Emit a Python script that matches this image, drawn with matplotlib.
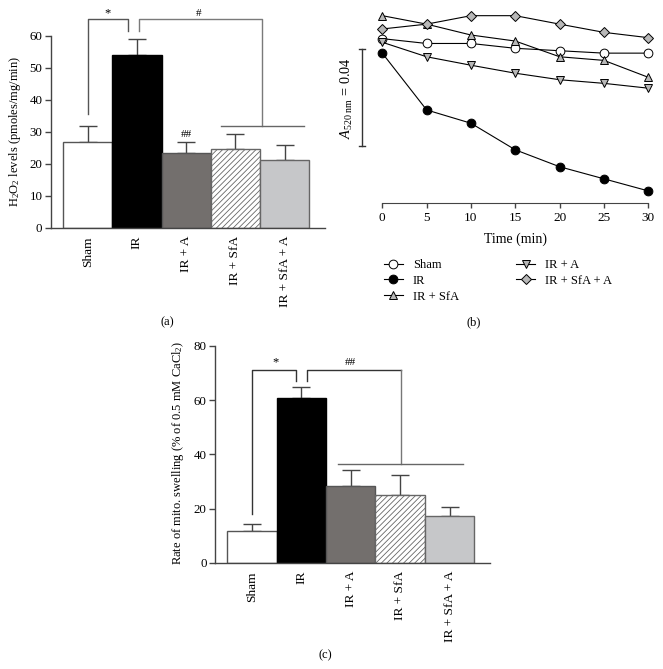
import matplotlib
matplotlib.use("Agg")
import matplotlib.pyplot as plt

plt.rcParams['font.family'] = ['Liberation Serif', 'DejaVu Serif']
plt.rcParams['mathtext.fontset'] = 'custom'
plt.rcParams['mathtext.rm'] = 'Liberation Serif'
plt.rcParams['mathtext.it'] = 'Liberation Serif:italic'
plt.rcParams['hatch.linewidth'] = 0.6
FS = 9

# ---------------- data ----------------
groups = ["Sham", "IR", "IR + A", "IR + SfA", "IR + SfA + A"]
h2o2_mean = [26.8, 54.2, 23.5, 24.7, 21.3]
h2o2_err = [4.9, 5.0, 3.4, 4.5, 4.6]
swell_mean = [11.7, 60.7, 28.4, 25.0, 17.2]
swell_err = [2.5, 4.1, 5.8, 7.2, 3.3]

time_min = [0, 5, 10, 15, 20, 25, 30]
abs_sham = [0.468, 0.466, 0.466, 0.464, 0.463, 0.462, 0.462]
abs_ir = [0.462, 0.4385, 0.433, 0.422, 0.415, 0.410, 0.405]
abs_ir_sfa = [0.4775, 0.474, 0.4695, 0.467, 0.4605, 0.459, 0.452]
abs_ir_a = [0.4665, 0.4605, 0.457, 0.4537, 0.451, 0.4495, 0.4475]
abs_ir_sfa_a = [0.472, 0.474, 0.4775, 0.4775, 0.474, 0.4706, 0.4684]
time_ticks = [0, 5, 10, 15, 20, 25, 30]
scale_bar_bottom = 0.4237
scale_bar_len = 0.04

bar_fc = ['white', 'black', '#736f6d', 'white', '#c6c7c9']
bar_ec = ['#555555', 'black', '#555555', '#666666', '#666666']
bar_hatch = [None, None, None, '//////', None]

W, H = 663, 669
fig = plt.figure(figsize=(W / 100, H / 100), dpi=100)


def fx(px):
    return px / W


def fy(py):
    return 1 - py / H


def bar_panel(ax, means, errs, ymax, ystep):
    x = list(range(len(groups)))
    for i in x:
        ax.bar(i, means[i], width=1.0, color=bar_fc[i], edgecolor=bar_ec[i],
               linewidth=1.0, hatch=bar_hatch[i], zorder=2)
        ax.errorbar(i, means[i], yerr=[[0], [errs[i]]], fmt='none',
                    ecolor='#444444', elinewidth=1.0, capsize=6.5,
                    capthick=1.0, zorder=1)
    ax.set_xlim(-0.75, 4.82)
    ax.set_ylim(0, ymax)
    ax.set_yticks(range(0, ymax + 1, ystep))
    ax.set_xticks(x)
    ax.set_xticklabels(groups, rotation=90, va='top', ha='center', fontsize=9.6)
    ax.tick_params(axis='x', length=0, pad=6)
    ax.tick_params(axis='y', length=4, width=1.0, color='#444444',
                   labelsize=9.3, pad=2)
    for s in ['top', 'right']:
        ax.spines[s].set_visible(False)
    for s in ['left', 'bottom']:
        ax.spines[s].set_color('#444444')
        ax.spines[s].set_linewidth(1.0)


def bracket(ax, xs, ys, color):
    ax.plot(xs, ys, color=color, lw=1.0, clip_on=False, zorder=3)


# ---------------- panel (a) ----------------
ax_a = fig.add_axes([fx(50.7), fy(227.7), (325 - 50.7) / W, (227.7 - 36) / H])
bar_panel(ax_a, h2o2_mean, h2o2_err, 60, 10)
bracket(ax_a, [0, 0, 0.816, 0.816], [35.6, 65.3, 65.3, 61.7], '#555555')
bracket(ax_a, [1.05, 1.05, 3.54, 3.54], [61.7, 65.2, 65.2, 31.9], '#7a7a7a')
bracket(ax_a, [2.70, 4.40], [31.9, 31.9], '#666666')
ax_a.text(0.40, 67.0, '*', ha='center', va='center', fontsize=FS)
ax_a.text(2.25, 67.0, '#', ha='center', va='center', fontsize=FS - 1)
ax_a.text(2.01, 29.2, '##', ha='center', va='center', fontsize=FS - 1)
fig.text(fx(15), fy(131.5), r'H$_2$O$_2$ levels (pmoles/mg/min)', rotation=90,
         ha='center', va='center', fontsize=FS)
fig.text(fx(167), fy(322), '(a)', ha='center', va='center', fontsize=FS)

# ---------------- panel (b) ----------------
ylo, yhi = 0.40, 0.482
ax_b = fig.add_axes([fx(382.3), fy(203), 266 / W, 198.2 / H])
series = [
    ("Sham", abs_sham, 'o', 'white'),
    ("IR", abs_ir, 'o', 'black'),
    ("IR + SfA", abs_ir_sfa, '^', '#b8b8b8'),
    ("IR + A", abs_ir_a, 'v', '#b8b8b8'),
    ("IR + SfA + A", abs_ir_sfa_a, 'D', '#b8b8b8'),
]
for name, vals, mk, fc in series:
    ms = 5.4 if mk == 'D' else 6.3
    ax_b.plot(time_min, vals, color='black', lw=0.8, marker=mk, ms=ms,
              mfc=fc, mec='black', mew=0.7, clip_on=False, label=name)
ax_b.set_xlim(0, 30)
ax_b.set_ylim(ylo, yhi)
ax_b.set_xticks(time_ticks)
ax_b.set_yticks([])
for s in ['top', 'right', 'left']:
    ax_b.spines[s].set_visible(False)
ax_b.spines['bottom'].set_color('#444444')
ax_b.tick_params(axis='x', length=3.5, width=1.0, color='#444444',
                 labelsize=9.5, pad=3)
# scale bar
sbx = -2.26
ax_b.plot([sbx, sbx], [scale_bar_bottom, scale_bar_bottom + scale_bar_len],
          color='#333333', lw=1.0, clip_on=False)
for yv in [scale_bar_bottom, scale_bar_bottom + scale_bar_len]:
    ax_b.plot([sbx - 0.35, sbx + 0.35], [yv, yv], color='#333333', lw=1.0,
              clip_on=False)
fig.text(fx(347), fy(98), r'$A_{520\ \mathrm{nm}}$ = 0.04', rotation=90,
         ha='center', va='center', fontsize=10.3)
fig.text(fx(515), fy(239), 'Time (min)', ha='center', va='center', fontsize=10)
ax_b.legend(loc='upper left', bbox_to_anchor=(fx(384), fy(259)),
            bbox_transform=fig.transFigure, ncol=2, frameon=False,
            fontsize=FS, borderpad=0, borderaxespad=0, handlelength=1.5,
            handletextpad=0.8, columnspacing=4.6, labelspacing=0.3)
fig.text(fx(474), fy(322), '(b)', ha='center', va='center', fontsize=FS)

# ---------------- panel (c) ----------------
ax_c = fig.add_axes([fx(215), fy(562.7), (490 - 215) / W, (562.7 - 346) / H])
bar_panel(ax_c, swell_mean, swell_err, 80, 20)
bracket(ax_c, [0, 0, 0.886, 0.886], [18.0, 71.3, 71.3, 67.2], '#333333')
bracket(ax_c, [1.11, 1.11, 3.02], [67.2, 71.3, 71.3], '#333333')
bracket(ax_c, [3.02, 3.02], [71.3, 36.6], '#777777')
bracket(ax_c, [1.75, 4.28], [36.6, 36.6], '#666666')
ax_c.text(0.48, 74.0, '*', ha='center', va='center', fontsize=FS)
ax_c.text(2.0, 73.9, '##', ha='center', va='center', fontsize=FS - 1)
fig.text(fx(178.3), fy(452.7), r'Rate of mito. swelling (% of 0.5 mM CaCl$_2$)',
         rotation=90, ha='center', va='center', fontsize=FS)
fig.text(fx(325.7), fy(655), '(c)', ha='center', va='center', fontsize=FS)

fig.savefig('out.png', dpi=100)
